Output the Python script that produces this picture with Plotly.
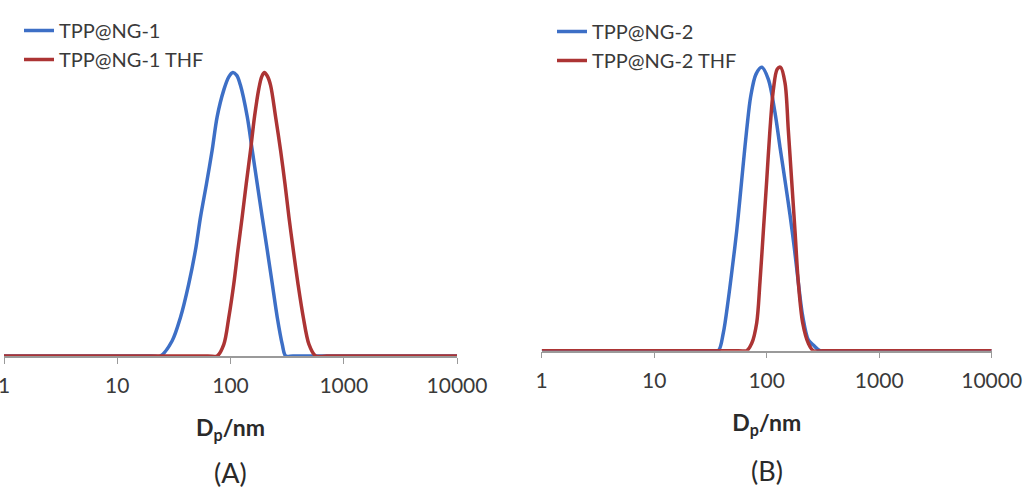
import plotly.graph_objects as go

# ---- Data (log10 of diameter in nm, normalized intensity) ----
# Panel A
a_blue_logd = [0.0, 1.30, 1.381, 1.484, 1.558, 1.631, 1.690, 1.735, 1.788, 1.838, 1.882, 1.941, 1.985, 2.021,
               2.055, 2.088, 2.148, 2.192, 2.236, 2.280, 2.325, 2.369, 2.413, 2.457, 2.487, 2.55, 2.75, 4.0]
a_blue_int = [0, 0, 0, 0.053, 0.136, 0.254, 0.372, 0.490, 0.608, 0.726, 0.844, 0.939, 0.985, 1.0,
              0.990, 0.955, 0.844, 0.726, 0.608, 0.490, 0.372, 0.254, 0.136, 0.041, 0, 0, 0, 0]
a_red_logd = [0.0, 1.80, 1.882, 1.941, 1.985, 2.029, 2.065, 2.103, 2.139, 2.177, 2.212, 2.251, 2.275, 2.298,
              2.325, 2.354, 2.398, 2.442, 2.481, 2.516, 2.555, 2.596, 2.643, 2.693, 2.752, 2.85, 4.0]
a_red_int = [0, 0, 0, 0.041, 0.136, 0.254, 0.372, 0.490, 0.608, 0.726, 0.844, 0.945, 0.985, 1.0,
             0.988, 0.955, 0.844, 0.726, 0.608, 0.490, 0.372, 0.254, 0.136, 0.041, 0, 0, 0]

# Panel B
b_blue_logd = [0.0, 1.50, 1.570, 1.614, 1.659, 1.697, 1.733, 1.763, 1.792, 1.822, 1.858, 1.905, 1.956,
               2.014, 2.074, 2.118, 2.163, 2.207, 2.246, 2.281, 2.320, 2.370, 2.414, 2.474, 2.55, 4.0]
b_blue_int = [0, 0, 0, 0.062, 0.182, 0.301, 0.421, 0.540, 0.660, 0.779, 0.898, 0.976, 1.0,
              0.958, 0.839, 0.719, 0.600, 0.480, 0.361, 0.241, 0.122, 0.038, 0.020, 0, 0, 0]
b_red_logd = [0.0, 1.75, 1.822, 1.867, 1.911, 1.940, 1.970, 2.000, 2.029, 2.059, 2.094, 2.124,
              2.163, 2.192, 2.222, 2.252, 2.281, 2.320, 2.370, 2.414, 2.50, 4.0]
b_red_int = [0, 0, 0, 0.026, 0.098, 0.241, 0.420, 0.600, 0.779, 0.920, 0.994, 1.0,
             0.944, 0.779, 0.600, 0.420, 0.241, 0.098, 0.026, 0, 0, 0]

tick_vals = [1, 10, 100, 1000, 10000]
tick_text = ["1", "10", "100", "1000", "10000"]

BLUE = "#3D6FC6"
RED = "#AC3434"
FONT = "Lato"

def to_nm(v):
    return [10 ** x for x in v]

line_a = dict(width=3.5, shape="spline", smoothing=0.9)

fig = go.Figure()
fig.add_trace(go.Scatter(x=to_nm(a_blue_logd), y=a_blue_int, mode="lines", name="TPP@NG-1",
                         line=dict(color=BLUE, **line_a), xaxis="x", yaxis="y", legend="legend"))
fig.add_trace(go.Scatter(x=to_nm(a_red_logd), y=a_red_int, mode="lines", name="TPP@NG-1 THF",
                         line=dict(color=RED, **line_a), xaxis="x", yaxis="y", legend="legend"))
fig.add_trace(go.Scatter(x=to_nm(b_blue_logd), y=b_blue_int, mode="lines", name="TPP@NG-2",
                         line=dict(color=BLUE, **line_a), xaxis="x2", yaxis="y2", legend="legend2"))
fig.add_trace(go.Scatter(x=to_nm(b_red_logd), y=b_red_int, mode="lines", name="TPP@NG-2 THF",
                         line=dict(color=RED, **line_a), xaxis="x2", yaxis="y2", legend="legend2"))

xaxis_common = dict(type="log", range=[0, 4], tickvals=tick_vals, ticktext=tick_text,
                    showline=True, linecolor="#9A9A9A", linewidth=1.5, ticks="outside",
                    ticklen=6, tickcolor="#9A9A9A", showgrid=False, zeroline=False, automargin=False,
                    ticklabeloverflow="allow", ticklabelstandoff=4,
                    tickfont=dict(family=FONT, size=21, color="#3A3A3A"),
                    title=dict(text="<b>D<sub>p</sub>/nm</b>", font=dict(family=FONT, size=23, color="#2A2A2A"),
                               standoff=24))
yaxis_common = dict(range=[0, 1.115], visible=False, showgrid=False, zeroline=False, fixedrange=True,
                    automargin=False)

fig.update_layout(
    width=1028, height=494,
    margin=dict(l=0, r=0, t=0, b=0, autoexpand=False),
    paper_bgcolor="white", plot_bgcolor="white",
    xaxis=dict(domain=[4 / 1028, 457 / 1028], anchor="y", **xaxis_common),
    yaxis=dict(domain=[1 - 356 / 494, 1 - 40 / 494], anchor="x", **yaxis_common),
    xaxis2=dict(domain=[541.7 / 1028, 991.7 / 1028], anchor="y2", **xaxis_common),
    yaxis2=dict(domain=[1 - 350.7 / 494, 1 - 34.7 / 494], anchor="x2", **yaxis_common),
    legend=dict(x=19 / 1028, y=1 - 11 / 494, xanchor="left", yanchor="top",
                font=dict(family=FONT, size=20, color="#3A3A3A"), bgcolor="rgba(0,0,0,0)",
                tracegroupgap=0, itemwidth=30),
    legend2=dict(x=552 / 1028, y=1 - 12 / 494, xanchor="left", yanchor="top",
                 font=dict(family=FONT, size=20, color="#3A3A3A"), bgcolor="rgba(0,0,0,0)",
                 tracegroupgap=0, itemwidth=30),
    showlegend=True,
    annotations=[
        dict(text="(A)", x=0.5, xref="x domain", y=1 - 472 / 494, yref="paper", showarrow=False,
             font=dict(family=FONT, size=27, color="#2A2A2A"), xanchor="center", yanchor="middle"),
        dict(text="(B)", x=0.5, xref="x2 domain", y=1 - 470 / 494, yref="paper", showarrow=False,
             font=dict(family=FONT, size=27, color="#2A2A2A"), xanchor="center", yanchor="middle"),
    ],
)

fig.write_html("out.html")
